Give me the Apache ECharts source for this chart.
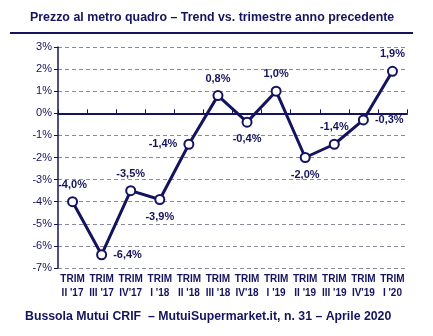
<!DOCTYPE html>
<html><head><meta charset="utf-8">
<script src="https://cdn.jsdelivr.net/npm/echarts@6/dist/echarts.min.js"></script>
<style>html,body{margin:0;padding:0;background:#fff}#c{width:433px;height:336px}</style>
</head><body><div id="c"></div>
<script>
const categories = ["TRIM\nII '17","TRIM\nIII '17","TRIM\nIV'17","TRIM\nI '18","TRIM\nII '18","TRIM\nIII '18","TRIM\nIV'18","TRIM\nI '19","TRIM\nII '19","TRIM\nIII '19","TRIM\nIV'19","TRIM\nI '20"];
const values = [-4.0, -6.4, -3.5, -3.9, -1.4, 0.8, -0.4, 1.0, -2.0, -1.4, -0.3, 1.9];
const labelPositions = ['top','right','top','bottom','left','top','bottom','top','bottom','top','right','top'];
const navy = '#14145e';
const chart = echarts.init(document.getElementById('c'), null, {renderer:'canvas'});
chart.setOption({
  animation:false,
  title:{text:'Prezzo al metro quadro – Trend vs. trimestre anno precedente',left:25,top:7,
    textStyle:{fontFamily:'Liberation Sans, Arial',fontSize:12.4,fontWeight:'bold',color:navy}},
  graphic:[
    {type:'rect',shape:{x:10,y:32,width:403,height:2},style:{fill:navy}},
    {type:'text',left:25,top:311,style:{text:'Bussola Mutui CRIF  – MutuiSupermarket.it, n. 31 – Aprile 2020',
      font:'bold 12.3px "Liberation Sans", Arial',fill:navy}}
  ],
  grid:{left:58,right:26,top:47,bottom:68},
  xAxis:[
    {type:'category',data:categories,position:'bottom',boundaryGap:true,
     axisLine:{show:false,onZero:false},axisTick:{show:false},
     axisLabel:{color:navy,fontFamily:'Liberation Sans, Arial',fontSize:10,fontWeight:'bold',lineHeight:14,margin:4,interval:0}},
    {type:'category',data:categories,boundaryGap:true,
     axisLine:{show:true,onZero:true,lineStyle:{color:navy,width:2}},
     axisTick:{show:true,interval:0,inside:false,length:4,lineStyle:{color:navy,width:1}},
     axisLabel:{show:false}}
  ],
  yAxis:{type:'value',min:-7,max:3,interval:1,
    axisLine:{show:true,lineStyle:{color:navy,width:1.5}},
    axisTick:{show:true,length:4,lineStyle:{color:navy}},
    axisLabel:{formatter:v=>v+'%',color:navy,fontFamily:'Liberation Sans, Arial',fontSize:11,margin:6},
    splitLine:{show:true,lineStyle:{color:'#8a8a9a',type:[4,3],width:1}}},
  series:[{type:'line',xAxisIndex:0,data:values.map((v,i)=>({value:v,label:{position:labelPositions[i]}})),
    symbol:'circle',symbolSize:9,
    lineStyle:{color:navy,width:3},
    itemStyle:{color:'#fff',borderColor:navy,borderWidth:2},
    label:{show:true,distance:6,formatter:p=>p.value.toFixed(1).replace('.',',')+'%',
      color:navy,fontFamily:'Liberation Sans, Arial',fontSize:11,fontWeight:'bold'}}]
});
</script></body></html>
